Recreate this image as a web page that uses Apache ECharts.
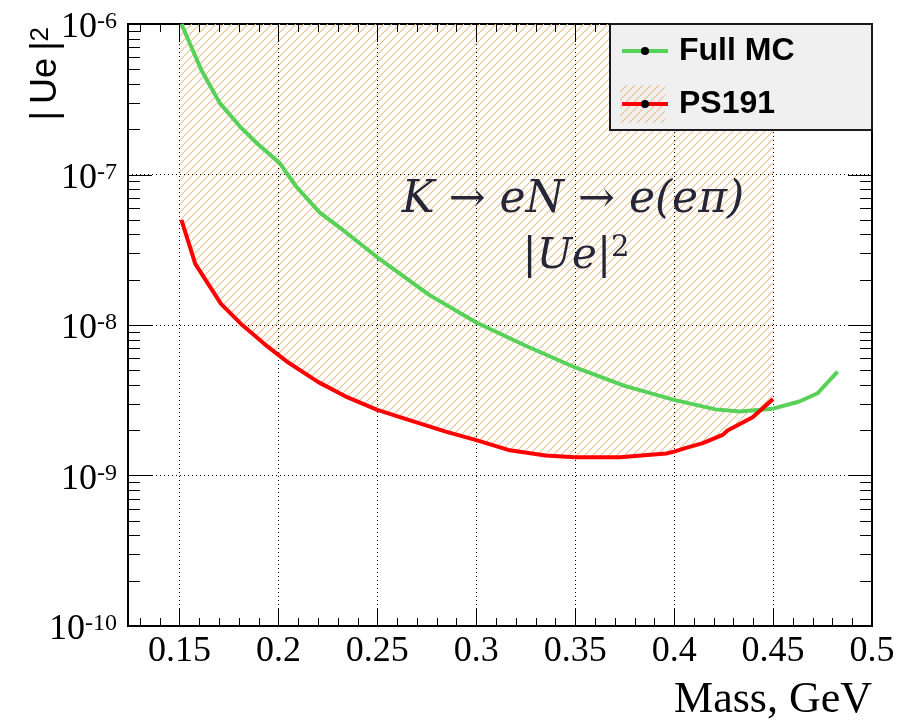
<!DOCTYPE html>
<html>
<head>
<meta charset="utf-8">
<script src="https://cdn.jsdelivr.net/npm/echarts@6/dist/echarts.min.js"></script>
<style>
  html, body { margin: 0; padding: 0; background: #fff; }
  #chart { width: 899px; height: 722px; }
</style>
</head>
<body>
<div id="chart"></div>
<script>
// Heavy neutral lepton search: upper limits on |Ue|^2 versus mass
const massFullMC = [0.151, 0.161, 0.1704, 0.1805, 0.189, 0.2007, 0.209, 0.2209, 0.2326, 0.2495, 0.2764, 0.30, 0.325, 0.35, 0.375, 0.40, 0.421, 0.433, 0.45, 0.4633, 0.4725, 0.4826];
const ueFullMC   = [1.0e-6, 4.97e-7, 2.98e-7, 2.09e-7, 1.62e-7, 1.19e-7, 8.32e-8, 5.58e-8, 4.28e-8, 2.85e-8, 1.58e-8, 1.04e-8, 7.28e-9, 5.22e-9, 3.94e-9, 3.18e-9, 2.75e-9, 2.66e-9, 2.78e-9, 3.1e-9, 3.52e-9, 4.9e-9];

const massPS191 = [0.151, 0.158, 0.171, 0.181, 0.193, 0.205, 0.22, 0.235, 0.25, 0.265, 0.285, 0.30, 0.317, 0.335, 0.35, 0.3724, 0.396, 0.40, 0.4056, 0.4145, 0.4245, 0.427, 0.4397, 0.45];
const uePS191   = [5.0e-8, 2.55e-8, 1.38e-8, 1.02e-8, 7.47e-9, 5.63e-9, 4.19e-9, 3.3e-9, 2.73e-9, 2.36e-9, 1.95e-9, 1.72e-9, 1.47e-9, 1.36e-9, 1.32e-9, 1.32e-9, 1.40e-9, 1.44e-9, 1.52e-9, 1.64e-9, 1.86e-9, 1.99e-9, 2.44e-9, 3.22e-9];

// excluded region drawn as hatch: from the PS191 limit up to the top of the frame
const hatchMassRange = [0.15, 0.45];
const hatchTop = 1e-6;

const massRange = [0.124, 0.5];
const ueRange = [1e-10, 1e-6];
const massMajorTicks = [0.15, 0.2, 0.25, 0.3, 0.35, 0.4, 0.45, 0.5];
const massTickLabels = ['0.15', '0.2', '0.25', '0.3', '0.35', '0.4', '0.45', '0.5'];
const massMinorTicks = [0.13, 0.14, 0.16, 0.17, 0.18, 0.19, 0.21, 0.22, 0.23, 0.24, 0.26, 0.27, 0.28, 0.29,
                        0.31, 0.32, 0.33, 0.34, 0.36, 0.37, 0.38, 0.39, 0.41, 0.42, 0.43, 0.44, 0.46, 0.47, 0.48, 0.49];
const ueDecades = [-10, -9, -8, -7, -6];
const ueMinorMultipliers = [2, 3, 4, 5, 6, 7, 8, 9];

const SERIF = '"Liberation Serif", "Times New Roman", serif';
const SANS = '"Liberation Sans", Arial, sans-serif';
const MATH = '"DejaVu Serif", serif';
const GREEN = '#57d157';
const RED = '#ff0000';
const INK = '#262636';
const HATCH = 'rgb(232,192,142)';

// tick values on the |Ue|^2 axis
const ueMajorTicks = ueDecades.map(d => Math.pow(10, d));
const ueMinorTicks = [];
for (let i = 0; i < ueDecades.length - 1; i++) {
  ueMinorMultipliers.forEach(k => ueMinorTicks.push(k * Math.pow(10, ueDecades[i])));
}

// "/" hatch tile, repeated seamlessly
function makeHatch() {
  const s = 8;
  const c = document.createElement('canvas');
  c.width = s; c.height = s;
  const g = c.getContext('2d');
  g.strokeStyle = HATCH;
  g.lineWidth = 1.1;
  [-s, 0, s].forEach(o => {
    g.beginPath();
    g.moveTo(o, s);
    g.lineTo(o + s, 0);
    g.stroke();
  });
  return c;
}
const hatchFill = { image: makeHatch(), repeat: 'repeat' };

const chart = echarts.init(document.getElementById('chart'), null, { renderer: 'canvas' });

const gridDots = { show: true, lineStyle: { color: '#000', width: 1, type: [1, 3] } };

function massLabel(v) {
  for (let i = 0; i < massMajorTicks.length; i++) {
    if (Math.abs(massMajorTicks[i] - v) < 1e-9) return massTickLabels[i];
  }
  return '';
}

// tick marks on all four sides of the frame, pointing inwards
function renderFrameTicks(params, api) {
  const children = [];
  const lo = api.coord([massRange[0], ueRange[0]]);
  const hi = api.coord([massRange[1], ueRange[1]]);
  const xL = lo[0], yB = lo[1], xR = hi[0], yT = hi[1];
  const seg = (x1, y1, x2, y2) => children.push({
    type: 'line', shape: { x1, y1, x2, y2 }, style: { stroke: '#000', lineWidth: 1 }
  });
  const px = v => Math.round(v) + 0.5;
  const xTick = (m, len) => {
    const x = px(api.coord([m, ueRange[0]])[0]);
    seg(x, yB, x, yB - len);
    seg(x, yT, x, yT + len);
  };
  const yTick = (u, len) => {
    const y = px(api.coord([massRange[0], u])[1]);
    seg(xL, y, xL + len, y);
    seg(xR, y, xR - len, y);
  };
  massMajorTicks.forEach(m => xTick(m, 18));
  massMinorTicks.forEach(m => xTick(m, 8));
  ueMajorTicks.forEach(u => yTick(u, 24));
  ueMinorTicks.forEach(u => yTick(u, 12));
  return { type: 'group', children };
}

const option = {
  animation: false,
  backgroundColor: '#ffffff',
  grid: {
    left: 128, right: 27, top: 24, bottom: 96, containLabel: false, outerBoundsMode: 'none',
    show: true, borderColor: '#000', borderWidth: 2, backgroundColor: 'transparent'
  },
  xAxis: {
    type: 'value', position: 'bottom', min: massRange[0], max: massRange[1], z: 1,
    axisLine: { show: false, onZero: false },
    axisTick: { show: false, customValues: massMajorTicks },
    axisLabel: {
      show: true, customValues: massMajorTicks, formatter: massLabel, margin: 8,
      fontFamily: SERIF, fontSize: 36, color: '#000'
    },
    splitLine: gridDots
  },
  yAxis: {
    type: 'log', logBase: 10, position: 'left', min: ueRange[0], max: ueRange[1], z: 1,
    axisLine: { show: false, onZero: false },
    axisTick: { show: false },
    axisLabel: {
      show: true, margin: 11, padding: [8, 0, 0, 0],
      formatter: v => '{b|10}{s|' + Math.round(Math.log10(v)) + '}',
      rich: {
        b: { fontFamily: SERIF, fontSize: 36, lineHeight: 36, color: '#000' },
        s: { fontFamily: SERIF, fontSize: 24, lineHeight: 18, verticalAlign: 'top', color: '#000' }
      }
    },
    splitLine: gridDots
  },
  legend: {
    orient: 'vertical', left: 620, top: 35, padding: 0,
    itemGap: 21, itemWidth: 46, itemHeight: 10,
    selectedMode: false, z: 4,
    data: ['Full MC', 'PS191'],
    lineStyle: { width: 4 },
    textStyle: { fontFamily: SANS, fontWeight: 'bold', fontSize: 32, color: '#000', padding: [0, 0, 0, 6] }
  },
  graphic: [
    { // legend frame
      type: 'rect', z: 3, silent: true,
      shape: { x: 610, y: 24, width: 262, height: 106 },
      style: { fill: '#f0f0f0', stroke: '#1a1a1a', lineWidth: 2 }
    },
    { // hatch swatch behind the PS191 key
      type: 'rect', z: 3, silent: true,
      shape: { x: 620, y: 85, width: 45, height: 38 },
      style: { fill: hatchFill }
    },
    { // y axis title, reading upwards and ending near the top of the frame
      type: 'text', z: 3, silent: true,
      x: 64, y: 27, rotation: Math.PI / 2,
      style: {
        text: '{m||\u2009Ue\u2009|}{s|2}',
        align: 'right', verticalAlign: 'bottom',
        rich: {
          m: { fontFamily: SANS, fontSize: 36, lineHeight: 36, fill: '#000' },
          s: { fontFamily: SANS, fontSize: 26, lineHeight: 22, verticalAlign: 'top', fill: '#000' }
        }
      }
    },
    { // x axis title
      type: 'text', z: 3, silent: true,
      x: 872, y: 700,
      style: { text: 'Mass, GeV', align: 'right', verticalAlign: 'middle', fontFamily: SERIF, fontSize: 44, fill: '#000' }
    },
    { // process annotation
      type: 'text', z: 3, silent: true,
      x: 573, y: 201,
      style: { text: 'K → eN → e(eπ)', align: 'center', verticalAlign: 'middle',
               fontFamily: MATH, fontStyle: 'italic', fontSize: 44, fill: INK }
    },
    {
      type: 'text', z: 3, silent: true,
      x: 576, y: 257,
      style: {
        text: '{m||Ue|}{s|2}', align: 'center', verticalAlign: 'middle',
        rich: {
          m: { fontFamily: MATH, fontStyle: 'italic', fontSize: 42, lineHeight: 46, fill: INK },
          s: { fontFamily: MATH, fontSize: 29, lineHeight: 30, verticalAlign: 'top', fill: INK }
        }
      }
    }
  ],
  series: [
    {
      name: 'excluded', type: 'custom', z: 0, silent: true,
      data: massPS191.map((m, i) => [m, uePS191[i]]),
      encode: { x: 0, y: 1 },
      clip: true,
      renderItem: function (params, api) {
        if (params.dataIndex !== 0) return null;
        const pts = [api.coord([hatchMassRange[0], hatchTop]), api.coord([hatchMassRange[0], uePS191[0]])];
        for (let i = 0; i < massPS191.length; i++) pts.push(api.coord([massPS191[i], uePS191[i]]));
        pts.push(api.coord([hatchMassRange[1], hatchTop]));
        return { type: 'polygon', shape: { points: pts }, style: { fill: hatchFill, stroke: null } };
      }
    },
    {
      name: 'frame ticks', type: 'custom', z: 1, silent: true, clip: false,
      data: [[massRange[0], ueRange[0]]],
      encode: { x: 0, y: 1 },
      renderItem: renderFrameTicks
    },
    {
      name: 'Full MC', type: 'line', z: 2,
      data: massFullMC.map((m, i) => [m, ueFullMC[i]]),
      symbol: 'circle', symbolSize: 9, showSymbol: false,
      itemStyle: { color: '#000' },
      lineStyle: { color: GREEN, width: 4 },
      emphasis: { disabled: true }
    },
    {
      name: 'PS191', type: 'line', z: 2,
      data: massPS191.map((m, i) => [m, uePS191[i]]),
      symbol: 'circle', symbolSize: 9, showSymbol: false,
      itemStyle: { color: '#000' },
      lineStyle: { color: RED, width: 4 },
      emphasis: { disabled: true }
    }
  ]
};

chart.setOption(option);
</script>
</body>
</html>
